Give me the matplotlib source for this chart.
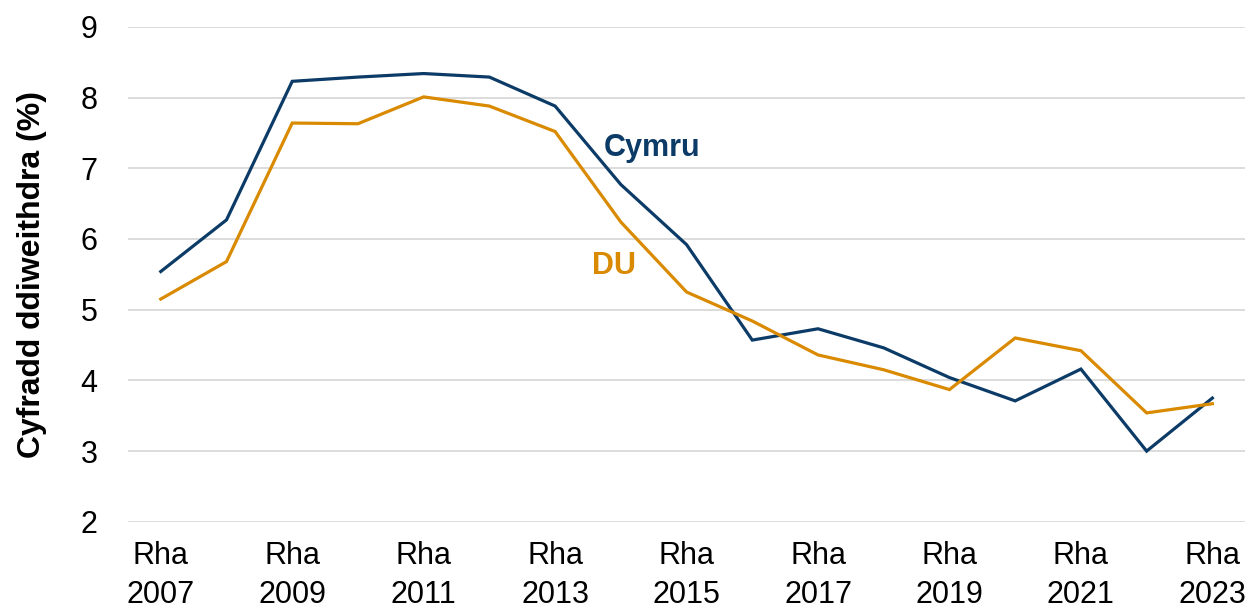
import matplotlib
matplotlib.use("Agg")
import matplotlib.pyplot as plt

years = list(range(2007, 2024))
cymru = [5.54, 6.27, 8.23, 8.29, 8.34, 8.29, 7.88, 6.77, 5.92, 4.57, 4.73, 4.46, 4.04, 3.71, 4.16, 3.00, 3.75]
du = [5.15, 5.68, 7.64, 7.63, 8.01, 7.88, 7.52, 6.24, 5.25, 4.84, 4.36, 4.15, 3.87, 4.60, 4.42, 3.54, 3.67]
tick_labels = [f"Rha\n{y}" if (y - 2007) % 2 == 0 else "" for y in years]
yticks = [2, 3, 4, 5, 6, 7, 8, 9]

plt.rcParams['font.family'] = ['Liberation Sans', 'DejaVu Sans']

c_blue = '#0B3B66'
c_orange = '#D98A00'
fs = 22

fig = plt.figure(figsize=(12.54, 6.11), dpi=100)
ax = fig.add_axes([0.102, 0.146, 0.891, 0.810])
x = list(range(len(years)))
ax.plot(x, cymru, color=c_blue, lw=2.3, solid_joinstyle='miter')
ax.plot(x, du, color=c_orange, lw=2.3, solid_joinstyle='miter')

ax.set_ylim(2, 9)
ax.set_xlim(-0.5, 16.5)
ax.set_yticks(yticks)
ax.set_xticks(x)
ax.set_xticklabels(tick_labels, fontsize=fs, linespacing=1.4)
ax.tick_params(axis='y', labelsize=fs, length=0, pad=22)
ax.tick_params(axis='x', length=0, pad=14)
ax.grid(axis='y', color='#D9D9D9', lw=1.3)
ax.set_axisbelow(True)
for s in ax.spines.values():
    s.set_visible(False)
ax.set_ylabel("Cyfradd ddiweithdra (%)", fontsize=23, fontweight='bold', labelpad=24)

ax.text(6.74, 7.29, "Cymru", color=c_blue, fontsize=fs, fontweight='bold', ha='left', va='center')
ax.text(6.89, 5.62, "DU", color=c_orange, fontsize=fs, fontweight='bold', ha='center', va='center')

fig.savefig("out.png", dpi=100)
